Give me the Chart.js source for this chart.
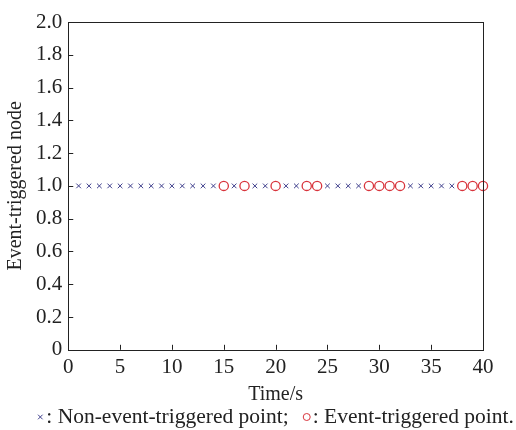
<!DOCTYPE html>
<html>
<head>
<meta charset="utf-8">
<script src="https://cdn.jsdelivr.net/npm/chart.js@4/dist/chart.umd.min.js"></script>
<style>
  html, body { margin: 0; padding: 0; background: #fff; }
  #wrap { width: 516px; height: 430px; }
</style>
</head>
<body>
<div id="wrap"><canvas id="c" width="516" height="430"></canvas></div>
<script>
// --- data ---
const nonEventTimes = [1, 2, 3, 4, 5, 6, 7, 8, 9, 10, 11, 12, 13, 14, 16, 18, 19, 21, 22, 25, 26, 27, 28, 33, 34, 35, 36, 37];
const nonEventValues = [1, 1, 1, 1, 1, 1, 1, 1, 1, 1, 1, 1, 1, 1, 1, 1, 1, 1, 1, 1, 1, 1, 1, 1, 1, 1, 1, 1];
const eventTimes = [15, 17, 20, 23, 24, 29, 30, 31, 32, 38, 39, 40];
const eventValues = [1, 1, 1, 1, 1, 1, 1, 1, 1, 1, 1, 1];
const xTicks = [0, 5, 10, 15, 20, 25, 30, 35, 40];
const yTicks = [0, 0.2, 0.4, 0.6, 0.8, 1.0, 1.2, 1.4, 1.6, 1.8, 2.0];

const serif = '"Liberation Serif", "Times New Roman", serif';
const ink = '#222';

function pts(xs, ys) {
  return xs.map((x, i) => ({ x: x, y: ys[i] }));
}

// frame round the plot plus inward tick marks, like the original
const framePlugin = {
  id: 'frame',
  afterDraw(chart) {
    const { ctx, chartArea: a, scales } = chart;
    ctx.save();
    ctx.strokeStyle = ink;
    ctx.lineWidth = 1;
    ctx.strokeRect(Math.round(a.left) + 0.5, Math.round(a.top) + 0.5,
      Math.round(a.right - a.left), Math.round(a.bottom - a.top));
    ctx.beginPath();
    xTicks.forEach(v => {
      const px = Math.round(scales.x.getPixelForValue(v)) + 0.5;
      ctx.moveTo(px, a.bottom);
      ctx.lineTo(px, a.bottom - 5);
    });
    yTicks.forEach(v => {
      const py = Math.round(scales.y.getPixelForValue(v)) + 0.5;
      ctx.moveTo(a.left, py);
      ctx.lineTo(a.left + 5, py);
    });
    ctx.stroke();
    ctx.restore();
  }
};

// one-line legend under the axis title: "x : label;  o : label."
const legendLine = {
  id: 'legendLine',
  afterDraw(chart) {
    const { ctx, chartArea: a } = chart;
    const sets = chart.data.datasets;
    const y = 417;
    ctx.save();
    ctx.font = '21.5px ' + serif;
    ctx.textBaseline = 'middle';
    ctx.fillStyle = ink;
    const markW = 9, gap = 15;
    let total = 0;
    sets.forEach((d, i) => { total += markW + ctx.measureText(d.label).width + (i ? gap : 0); });
    let x = (a.left + a.right) / 2 - total / 2;
    sets.forEach((d, i) => {
      if (i) x += gap;
      const mx = x + 3, r = d.pointStyle === 'circle' ? 3.5 : 2.3;
      ctx.strokeStyle = d.borderColor;
      ctx.lineWidth = 1;
      ctx.beginPath();
      if (d.pointStyle === 'circle') {
        ctx.arc(mx, y, r, 0, Math.PI * 2);
      } else {
        ctx.moveTo(mx - r, y - r); ctx.lineTo(mx + r, y + r);
        ctx.moveTo(mx - r, y + r); ctx.lineTo(mx + r, y - r);
      }
      ctx.stroke();
      x += markW;
      ctx.fillText(d.label, x, y);
      x += ctx.measureText(d.label).width;
    });
    ctx.restore();
  }
};

new Chart(document.getElementById('c'), {
  type: 'scatter',
  data: {
    datasets: [
      {
        label: ': Non-event-triggered point;',
        data: pts(nonEventTimes, nonEventValues),
        pointStyle: 'crossRot',
        pointRadius: 3.3,
        pointBorderWidth: 1,
        borderColor: '#3f3f8c',
        backgroundColor: '#3f3f8c',
        clip: false
      },
      {
        label: ': Event-triggered point.',
        data: pts(eventTimes, eventValues),
        pointStyle: 'circle',
        pointRadius: 4.6,
        pointBorderWidth: 1.3,
        borderColor: '#d8343c',
        backgroundColor: 'rgba(0,0,0,0)',
        clip: false
      }
    ]
  },
  options: {
    responsive: false,
    animation: false,
    layout: { padding: { left: 4, right: 33, top: 22, bottom: 25 } },
    plugins: {
      tooltip: { enabled: false },
      legend: { display: false }
    },
    scales: {
      x: {
        type: 'linear',
        min: 0,
        max: 40,
        afterBuildTicks: s => { s.ticks = xTicks.map(v => ({ value: v })); },
        grid: { display: false, drawTicks: false, tickLength: 0 },
        border: { display: false },
        ticks: { color: ink, font: { family: serif, size: 21 }, padding: 5, maxRotation: 0 },
        title: { display: true, text: 'Time/s', color: ink, font: { family: serif, size: 20, lineHeight: 1 }, padding: { top: 0, bottom: 0 } }
      },
      y: {
        type: 'linear',
        min: 0,
        max: 2,
        afterBuildTicks: s => { s.ticks = yTicks.map(v => ({ value: v })); },
        grid: { display: false, drawTicks: false, tickLength: 0 },
        border: { display: false },
        ticks: {
          color: ink,
          font: { family: serif, size: 21 },
          padding: 6,
          callback: v => v === 0 ? '0' : v.toFixed(1)
        },
        title: { display: true, text: 'Event-triggered node', color: ink, font: { family: serif, size: 20 }, padding: { top: 0, bottom: 2 } }
      }
    }
  },
  plugins: [framePlugin, legendLine]
});
</script>
</body>
</html>
